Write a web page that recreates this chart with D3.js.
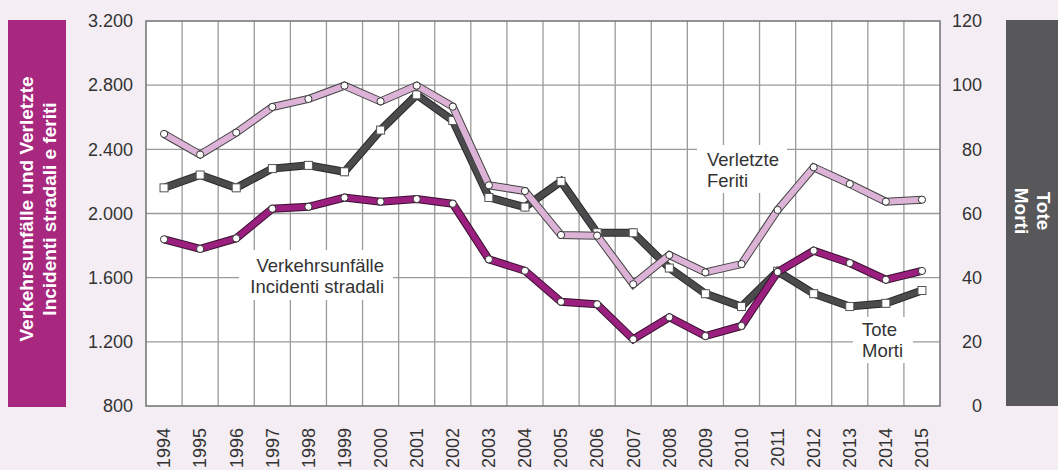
<!DOCTYPE html>
<html>
<head>
<meta charset="utf-8">
<script src="https://cdn.jsdelivr.net/npm/d3@7"></script>
<style>
  body{margin:0;background:#f4eef4;}
  svg{display:block;font-family:"Liberation Sans",Arial,sans-serif;}
</style>
</head>
<body>
<div id="chart"></div>
<script>
// data
var years = ["1994","1995","1996","1997","1998","1999","2000","2001","2002","2003","2004",
             "2005","2006","2007","2008","2009","2010","2011","2012","2013","2014","2015"];
var unfaelle = [1839,1779,1845,2030,2042,2099,2074,2090,2061,1714,1643,
                1450,1434,1216,1353,1236,1299,1635,1768,1691,1587,1642];
var verletzte = [2496,2367,2504,2664,2714,2797,2699,2797,2666,2176,2140,
                 1866,1862,1559,1741,1633,1685,2022,2288,2184,2074,2086];
var tote = [68,72,68,74,75,73,86,97,89,65,62,70,54,54,43,35,31,42,35,31,32,36];
var leftTicks = [800,1200,1600,2000,2400,2800,3200];
var rightTicks = [0,20,40,60,80,100,120];

var W = 1058, H = 470;
var plot = {left:146, right:940, top:21, bottom:406};

var svg = d3.select('#chart').append('svg')
  .attr('width',W).attr('height',H);

svg.append('rect').attr('width',W).attr('height',H).attr('fill','#f4eef4');

var x = d3.scaleBand().domain(years).range([plot.left,plot.right]).padding(0);
var yL = d3.scaleLinear().domain([800,3200]).range([plot.bottom,plot.top]);
var yR = d3.scaleLinear().domain([0,120]).range([plot.bottom,plot.top]);
var cx = function(d,i){ return x(years[i]) + x.bandwidth()/2; };

// plot background
svg.append('rect')
  .attr('x',plot.left).attr('y',plot.top)
  .attr('width',plot.right-plot.left).attr('height',plot.bottom-plot.top)
  .attr('fill','#fff');

// grid
var grid = svg.append('g').attr('stroke','#9a9a9a').attr('stroke-width',1.3);
grid.selectAll('.h').data(leftTicks.slice(1,-1)).enter().append('line')
  .attr('x1',plot.left).attr('x2',plot.right)
  .attr('y1',yL).attr('y2',yL);
grid.selectAll('.v').data(years.slice(1)).enter().append('line')
  .attr('x1',function(d){return x(d);}).attr('x2',function(d){return x(d);})
  .attr('y1',plot.top).attr('y2',plot.bottom);

// white boxes behind the series labels
var labels = [
  {lines:['Verkehrsunfälle','Incidenti stradali'], box:[239,250,154,50], tx:384, ty:267, anchor:'end'},
  {lines:['Verletzte','Feriti'], box:[697,145,90,48], tx:707, ty:161, anchor:'start'},
  {lines:['Tote','Morti'], box:[853,317,60,46], tx:862, ty:331, anchor:'start'}
];
labels.forEach(function(l){
  svg.append('rect').attr('x',l.box[0]).attr('y',l.box[1])
    .attr('width',l.box[2]).attr('height',l.box[3]).attr('fill','#fff');
  var t = svg.append('text').attr('font-size',18.5).attr('fill','#333')
    .attr('text-anchor',l.anchor).attr('dominant-baseline','middle');
  l.lines.forEach(function(s,i){
    t.append('tspan').attr('x',l.tx).attr('y',l.ty+i*21).text(s);
  });
});

// plot frame
svg.append('rect')
  .attr('x',plot.left).attr('y',plot.top)
  .attr('width',plot.right-plot.left).attr('height',plot.bottom-plot.top)
  .attr('fill','none').attr('stroke','#7a7a7a').attr('stroke-width',1.6);

// axes
var fmt = function(d){ return d3.format(',')(d).replace(/,/g,'.'); };
var axL = svg.append('g').attr('transform','translate('+plot.left+',0)')
  .call(d3.axisLeft(yL).tickValues(leftTicks).tickFormat(fmt).tickSize(0).tickPadding(13));
var axR = svg.append('g').attr('transform','translate('+plot.right+',0)')
  .call(d3.axisRight(yR).tickValues(rightTicks).tickSize(0).tickPadding(42));
axR.selectAll('text').attr('text-anchor','end');
var axB = svg.append('g').attr('transform','translate(0,'+plot.bottom+')')
  .call(d3.axisBottom(x).tickSize(0));
axB.selectAll('text')
  .attr('transform','rotate(-90)')
  .attr('x',-22).attr('y',0).attr('dy','0.35em')
  .attr('text-anchor','end');
[axL,axR,axB].forEach(function(a){
  a.select('.domain').remove();
  a.selectAll('text').attr('font-size',18).attr('fill','#333')
    .attr('font-family','"Liberation Sans",Arial,sans-serif');
});

// series: outlined thick lines with markers
function series(values, yScale, fillCol, edgeCol, marker){
  var line = d3.line().x(cx).y(function(d){return yScale(d);});
  var g = svg.append('g');
  g.append('path').datum(values).attr('d',line)
    .attr('fill','none').attr('stroke',edgeCol).attr('stroke-width',8)
    .attr('stroke-linejoin','miter');
  g.append('path').datum(values).attr('d',line)
    .attr('fill','none').attr('stroke',fillCol).attr('stroke-width',6)
    .attr('stroke-linejoin','miter');
  if(marker=='circle'){
    g.selectAll('circle').data(values).enter().append('circle')
      .attr('cx',cx).attr('cy',function(d){return yScale(d);})
      .attr('r',3.6).attr('fill','#fff').attr('stroke','#333').attr('stroke-width',1);
  }else{
    g.selectAll('rect').data(values).enter().append('rect')
      .attr('x',function(d,i){return cx(d,i)-4;})
      .attr('y',function(d){return yScale(d)-4;})
      .attr('width',8).attr('height',8)
      .attr('fill','#fff').attr('stroke','#555').attr('stroke-width',1);
  }
}
series(tote, yR, '#4b4b4d', '#2a2a2a', 'square');
series(verletzte, yL, '#dcb3d6', '#444', 'circle');
series(unfaelle, yL, '#9a1f7f', '#3a1030', 'circle');

// side title boxes
svg.append('rect').attr('x',8).attr('y',20).attr('width',58).attr('height',387).attr('fill','#a8287f');
var tl = svg.append('text').attr('transform','translate(38,209) rotate(-90)')
  .attr('text-anchor','middle').attr('fill','#fff').attr('font-weight','bold').attr('font-size',19);
tl.append('tspan').attr('x',0).attr('y',-5).text('Verkehrsunfälle und Verletzte');
tl.append('tspan').attr('x',0).attr('y',18).text('Incidenti stradali e feriti');

svg.append('rect').attr('x',1006).attr('y',20).attr('width',60).attr('height',386).attr('fill','#58585a');
var tr = svg.append('text').attr('transform','translate(1033,211) rotate(90)')
  .attr('text-anchor','middle').attr('fill','#fff').attr('font-weight','bold').attr('font-size',19);
tr.append('tspan').attr('x',0).attr('y',-4).text('Tote');
tr.append('tspan').attr('x',0).attr('y',18).text('Morti');
</script>
</body>
</html>
